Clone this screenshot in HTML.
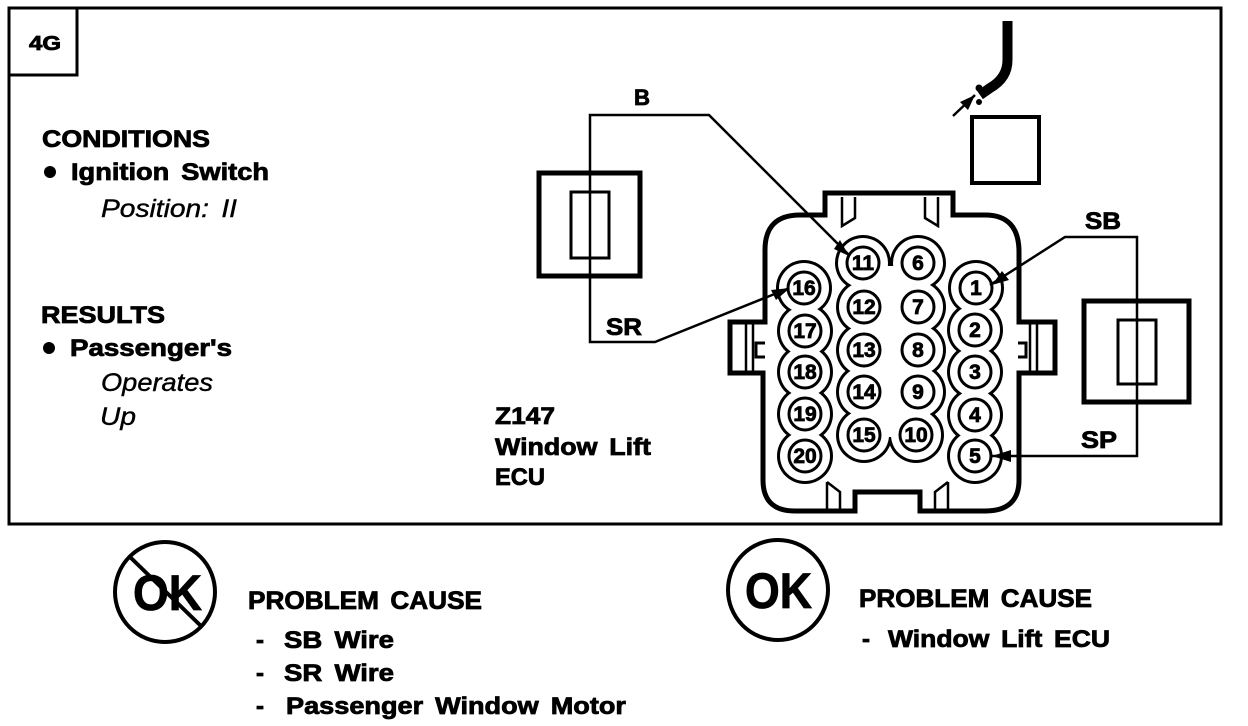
<!DOCTYPE html>
<html><head><meta charset="utf-8"><style>
html,body{margin:0;padding:0;background:#fff;width:1248px;height:726px;overflow:hidden}
svg{display:block}
text{font-family:"Liberation Sans",sans-serif;font-weight:bold;fill:#000;stroke:#000;stroke-width:.8;word-spacing:4px}
.it{font-style:italic;font-weight:normal;stroke-width:.4}
.n{font-size:21px;text-anchor:middle;stroke-width:.8}
.l{font-size:24.5px}
</style></head><body>
<svg width="1248" height="726" viewBox="0 0 1248 726" xmlns="http://www.w3.org/2000/svg">
<rect width="1248" height="726" fill="#fff"/>
<!-- frame -->
<rect x="9" y="8" width="1212" height="516" fill="none" stroke="#000" stroke-width="3"/>
<rect x="9" y="8" width="68" height="67" fill="none" stroke="#000" stroke-width="3"/>
<text x="29" y="50" font-size="20" textLength="32" lengthAdjust="spacingAndGlyphs">4G</text>
<!-- left text -->
<text x="42" y="147" class="l" textLength="168" lengthAdjust="spacingAndGlyphs">CONDITIONS</text>
<circle cx="50" cy="172" r="6"/>
<text x="71" y="180" class="l" textLength="198" lengthAdjust="spacingAndGlyphs">Ignition Switch</text>
<text x="101" y="217" class="it" font-size="25" textLength="136" lengthAdjust="spacingAndGlyphs">Position: II</text>
<text x="41" y="323" class="l" textLength="124" lengthAdjust="spacingAndGlyphs">RESULTS</text>
<circle cx="49" cy="348" r="6"/>
<text x="70" y="356" class="l" textLength="162" lengthAdjust="spacingAndGlyphs">Passenger's</text>
<text x="101" y="391" class="it" font-size="25" textLength="112" lengthAdjust="spacingAndGlyphs">Operates</text>
<text x="100" y="425" class="it" font-size="25" textLength="36" lengthAdjust="spacingAndGlyphs">Up</text>
<text x="495" y="424" class="l" textLength="60" lengthAdjust="spacingAndGlyphs">Z147</text>
<text x="495" y="455" class="l" textLength="156" lengthAdjust="spacingAndGlyphs">Window Lift</text>
<text x="495" y="485" class="l" textLength="50" lengthAdjust="spacingAndGlyphs">ECU</text>
<!-- connector outline -->
<path d="M825,193 H953 V215 H985 Q1019,215 1019,252 V322 H1055 V373 H1019 V480 Q1019,511 985,511 H920 V492 H855 V511 H795 Q763,511 763,480 V373 H730 V322 H765 V250 Q765,215 800,215 H825 Z" fill="#fff" stroke="#000" stroke-width="5"/>
<!-- latches -->
<g fill="none" stroke="#000" stroke-width="2.5">
<path d="M842,197 V226 L855,218 V197"/>
<path d="M938,197 V226 L925,218 V197"/>
<path d="M827,482 L840,492 V510 M827,482 V510"/>
<path d="M948,482 L935,492 V510 M948,482 V510"/>
<path d="M746,323 V372 M753,323 V372"/>
<path d="M1030,323 V372 M1037,323 V372"/>
<path d="M765,343 H756 V357 H765" stroke-width="3"/>
<path d="M1018,343 H1026 V357 H1018" stroke-width="3"/>
</g>
<!-- pin group contours -->
<g fill="#000">
<circle cx="804" cy="288" r="28"/><circle cx="805" cy="331" r="28"/><circle cx="805" cy="372" r="28"/><circle cx="805" cy="414" r="28"/><circle cx="805" cy="456" r="28"/>
<circle cx="976" cy="288" r="28"/><circle cx="975" cy="330" r="28"/><circle cx="975" cy="372" r="28"/><circle cx="975" cy="415" r="28"/><circle cx="975" cy="456" r="28"/>
<circle cx="863" cy="263" r="28"/><circle cx="864" cy="307" r="28"/><circle cx="864" cy="350" r="28"/><circle cx="864" cy="392" r="28"/><circle cx="864" cy="435" r="28"/>
<circle cx="918" cy="263" r="28"/><circle cx="918" cy="307" r="28"/><circle cx="918" cy="350" r="28"/><circle cx="918" cy="392" r="28"/><circle cx="916" cy="435" r="28"/>
<rect x="864" y="264" width="54" height="174"/>
</g>
<g fill="#fff">
<circle cx="804" cy="288" r="25"/><circle cx="805" cy="331" r="25"/><circle cx="805" cy="372" r="25"/><circle cx="805" cy="414" r="25"/><circle cx="805" cy="456" r="25"/>
<circle cx="976" cy="288" r="25"/><circle cx="975" cy="330" r="25"/><circle cx="975" cy="372" r="25"/><circle cx="975" cy="415" r="25"/><circle cx="975" cy="456" r="25"/>
<circle cx="863" cy="263" r="25"/><circle cx="864" cy="307" r="25"/><circle cx="864" cy="350" r="25"/><circle cx="864" cy="392" r="25"/><circle cx="864" cy="435" r="25"/>
<circle cx="918" cy="263" r="25"/><circle cx="918" cy="307" r="25"/><circle cx="918" cy="350" r="25"/><circle cx="918" cy="392" r="25"/><circle cx="916" cy="435" r="25"/>
<rect x="866" y="266" width="50" height="171"/>
</g>
<!-- pins -->
<g fill="#fff" stroke="#000" stroke-width="3">
<circle cx="804" cy="288" r="16"/><circle cx="805" cy="331" r="16"/><circle cx="805" cy="372" r="16"/><circle cx="805" cy="414" r="16"/><circle cx="805" cy="456" r="16"/>
<circle cx="976" cy="288" r="16"/><circle cx="975" cy="330" r="16"/><circle cx="975" cy="372" r="16"/><circle cx="975" cy="415" r="16"/><circle cx="975" cy="456" r="16"/>
<circle cx="863" cy="263" r="16"/><circle cx="864" cy="307" r="16"/><circle cx="864" cy="350" r="16"/><circle cx="864" cy="392" r="16"/><circle cx="864" cy="435" r="16"/>
<circle cx="918" cy="263" r="16"/><circle cx="918" cy="307" r="16"/><circle cx="918" cy="350" r="16"/><circle cx="918" cy="392" r="16"/><circle cx="916" cy="435" r="16"/>
</g>
<g>
<text class="n" x="804" y="295">16</text><text class="n" x="805" y="338">17</text><text class="n" x="805" y="379">18</text><text class="n" x="805" y="421">19</text><text class="n" x="805" y="463">20</text>
<text class="n" x="976" y="295">1</text><text class="n" x="975" y="337">2</text><text class="n" x="975" y="379">3</text><text class="n" x="975" y="422">4</text><text class="n" x="975" y="463">5</text>
<text class="n" x="863" y="270">11</text><text class="n" x="864" y="314">12</text><text class="n" x="864" y="357">13</text><text class="n" x="864" y="399">14</text><text class="n" x="864" y="442">15</text>
<text class="n" x="918" y="270">6</text><text class="n" x="918" y="314">7</text><text class="n" x="918" y="357">8</text><text class="n" x="918" y="399">9</text><text class="n" x="916" y="442">10</text>
</g>
<!-- left connector -->
<rect x="539" y="173" width="101" height="103" fill="#fff" stroke="#000" stroke-width="5"/>
<rect x="571" y="192" width="38" height="66" fill="none" stroke="#000" stroke-width="3"/>
<!-- right connector -->
<rect x="1084" y="301" width="105" height="101" fill="#fff" stroke="#000" stroke-width="5"/>
<rect x="1118" y="320" width="38" height="64" fill="none" stroke="#000" stroke-width="3"/>
<!-- square -->
<rect x="972" y="117" width="67" height="66" fill="#fff" stroke="#000" stroke-width="4"/>
<!-- wires -->
<g fill="none" stroke="#000" stroke-width="2.5">
<path d="M850,256 L709,115 H590 V342 H655 L787,289"/>
<path d="M990,285 L1065,237 H1137 V456 H992"/>
</g>
<!-- arrowheads -->
<g fill="#000">
<path d="M849,256 L834,249 L840,240 Z"/>
<path d="M790,288 L771,290 L776,300 Z"/>
<path d="M992,285 L1002,271 L1009,280 Z"/>
<path d="M992,456 L1011,450 L1011,462 Z"/>
</g>
<!-- lead top right -->
<path d="M1007.5,21 V60 Q1007.5,78 990,88 L980,95" fill="none" stroke="#000" stroke-width="10"/>
<circle cx="979" cy="88" r="3.5"/>
<circle cx="979" cy="102" r="3"/>
<path d="M953,116 L975,95" stroke="#000" stroke-width="2.5"/>
<path d="M975,95 L960,102 L968,110 Z" fill="#000"/>
<!-- wire labels -->
<text x="634" y="105" font-size="22" textLength="16" lengthAdjust="spacingAndGlyphs">B</text>
<text x="606" y="335" font-size="24" textLength="36" lengthAdjust="spacingAndGlyphs">SR</text>
<text x="1085" y="229" font-size="24" textLength="36" lengthAdjust="spacingAndGlyphs">SB</text>
<text x="1081" y="448" font-size="24" textLength="36" lengthAdjust="spacingAndGlyphs">SP</text>
<!-- bottom left -->
<circle cx="165" cy="592" r="50" fill="none" stroke="#000" stroke-width="4"/>
<text x="133" y="610" font-size="50" textLength="69" lengthAdjust="spacingAndGlyphs">OK</text>
<path d="M130,557 L202,627" stroke="#000" stroke-width="4"/>
<text x="248" y="609" font-size="25" textLength="234" lengthAdjust="spacingAndGlyphs">PROBLEM CAUSE</text>
<text x="256" y="648" font-size="24">-</text>
<text x="284" y="648" class="l" textLength="110" lengthAdjust="spacingAndGlyphs">SB Wire</text>
<text x="256" y="681" font-size="24">-</text>
<text x="284" y="681" class="l" textLength="110" lengthAdjust="spacingAndGlyphs">SR Wire</text>
<text x="256" y="714" font-size="24">-</text>
<text x="286" y="714" class="l" textLength="340" lengthAdjust="spacingAndGlyphs">Passenger Window Motor</text>
<!-- bottom right -->
<circle cx="778" cy="590" r="50" fill="none" stroke="#000" stroke-width="4"/>
<text x="745" y="608" font-size="50" textLength="67" lengthAdjust="spacingAndGlyphs">OK</text>
<text x="859" y="607" font-size="25" textLength="233" lengthAdjust="spacingAndGlyphs">PROBLEM CAUSE</text>
<text x="862" y="647" font-size="24">-</text>
<text x="888" y="647" class="l" textLength="222" lengthAdjust="spacingAndGlyphs">Window Lift ECU</text>
</svg>
</body></html>
